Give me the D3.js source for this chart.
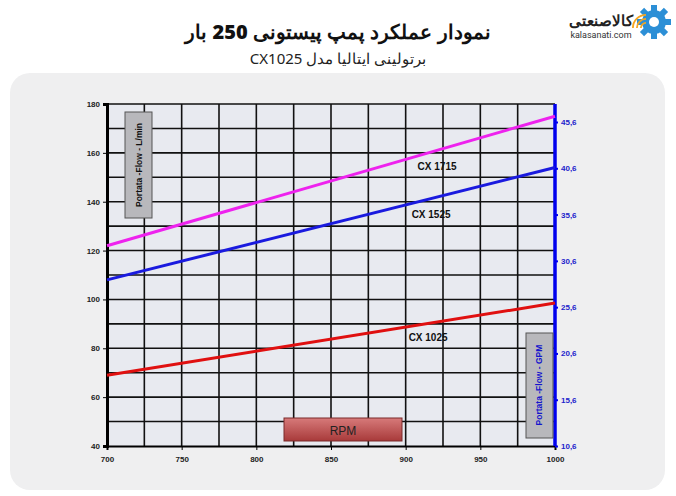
<!DOCTYPE html><html><head><meta charset="utf-8"><script src="https://cdn.jsdelivr.net/npm/d3@7"></script>
<style>body{margin:0;background:#fff}</style></head><body><svg id="c" width="676" height="496"></svg>
<script>
const rpmTicks=[700,750,800,850,900,950,1000];
const leftTicks=[40,60,80,100,120,140,160,180];
const rightTicks=[10.6,15.6,20.6,25.6,30.6,35.6,40.6,45.6];
const seriesNames=["CX 1715","CX 1525","CX 1025"];
const seriesColors=["#ee22ee","#1a1adf","#e01010"];
const seriesStart=[122,108,69];
const seriesEnd=[175,154,98.5];
const svg=d3.select("#c");
const defs=svg.append("defs");
const g1=defs.append("linearGradient").attr("id","rg").attr("x1",0).attr("y1",0).attr("x2",0).attr("y2",1);
g1.append("stop").attr("offset",0).attr("stop-color","#d77a7a");g1.append("stop").attr("offset",1).attr("stop-color","#a83a3a");
svg.append("text").attr("x",338).attr("y",39).attr("text-anchor","middle").attr("font-family","Noto Sans").attr("font-weight","900").attr("font-size",20).attr("fill","#111").attr("direction","rtl").text("نمودار عملکرد پمپ پیستونی 250 بار");
svg.append("text").attr("x",338).attr("y",64).attr("text-anchor","middle").attr("font-family","Noto Sans").attr("font-size",15).attr("fill","#222").attr("direction","rtl").text("برتولینی ایتالیا مدل CX1025");
const lg=svg.append("g").attr("transform","translate(654,22)");
lg.append("circle").attr("r",12).attr("fill","#2c8fd6");
for(let i=0;i<8;i++)lg.append("rect").attr("x",-3).attr("y",-17).attr("width",6).attr("height",6).attr("fill","#2c8fd6").attr("transform",`rotate(${i*45})`);
lg.append("circle").attr("r",5).attr("fill","#fff");
[6,10,14].forEach(r=>lg.append("path").attr("d",d3.arc()({innerRadius:r-1.8,outerRadius:r,startAngle:-Math.PI/2,endAngle:0})).attr("fill","#f5a623").attr("transform","translate(-8,6)"));
svg.append("text").attr("x",601).attr("y",26).attr("text-anchor","middle").attr("font-family","Noto Sans").attr("font-weight","bold").attr("font-size",15).attr("fill","#222").attr("direction","rtl").text("کالاصنعتی");
svg.append("text").attr("x",601).attr("y",38).attr("text-anchor","middle").attr("font-family","Roboto").attr("font-size",9).attr("fill","#333").text("kalasanati.com");
svg.append("rect").attr("x",10).attr("y",73).attr("width",655).attr("height",417).attr("rx",20).attr("fill","#efeff0");
const x=d3.scaleLinear().domain([700,1000]).range([107,555]);
const y=d3.scaleLinear().domain([40,180]).range([446,104]);
const yr=d3.scaleLinear().domain([10.6,45.6]).range([446,122]);
svg.append("rect").attr("x",107).attr("y",104).attr("width",448).attr("height",342).attr("fill","#e8eaf0");
const gr=svg.append("g").attr("stroke","#111").attr("stroke-width",1.6);
d3.range(725,1000,25).forEach(v=>gr.append("line").attr("x1",x(v)).attr("x2",x(v)).attr("y1",104).attr("y2",446));
d3.range(50,190,10).forEach(v=>gr.append("line").attr("x1",107).attr("x2",555).attr("y1",y(v)).attr("y2",y(v)));
const f="Liberation Sans";
svg.append("g").attr("transform","translate(107,0)").call(d3.axisLeft(y).tickValues(leftTicks).tickSize(4)).call(a=>{a.select(".domain").attr("stroke-width",3);a.selectAll("text").attr("font-family",f).attr("font-weight","bold").attr("font-size",8).attr("fill","#222")});
svg.append("g").attr("transform","translate(0,446)").call(d3.axisBottom(x).tickValues(rpmTicks).tickSize(4).tickFormat(d3.format("d"))).call(a=>{a.select(".domain").attr("stroke-width",2);a.selectAll("text").attr("font-family",f).attr("font-weight","bold").attr("font-size",8).attr("fill","#222").attr("dy","1.1em")});
svg.append("g").attr("transform","translate(555,0)").call(d3.axisRight(yr).tickValues(rightTicks).tickSize(3).tickFormat(d=>d.toFixed(1).replace(".",","))).call(a=>{a.select(".domain").attr("stroke","#0000ee").attr("stroke-width",3.5).attr("d","M0,104V446");a.selectAll("line").attr("stroke","#0000ee").attr("stroke-width",2);a.selectAll("text").attr("font-family",f).attr("font-weight","bold").attr("font-size",8).attr("fill","#2222cc").attr("x",6)});
seriesNames.forEach((n,i)=>{
 svg.append("line").attr("x1",x(700)).attr("y1",y(seriesStart[i])).attr("x2",x(1000)).attr("y2",y(seriesEnd[i])).attr("stroke",seriesColors[i]).attr("stroke-width",3);
});
const labelRpm=[908,904,902];
const labelFlow=[153,133.5,83];
seriesNames.forEach((n,i)=>svg.append("text").attr("x",x(labelRpm[i])).attr("y",y(labelFlow[i])).attr("font-family",f).attr("font-weight","bold").attr("font-size",10).attr("fill","#111").text(n));
svg.append("rect").attr("x",125).attr("y",112).attr("width",27).attr("height",106).attr("fill","#b8b8bc").attr("stroke","#555");
svg.append("text").attr("transform","translate(142,165) rotate(-90)").attr("text-anchor","middle").attr("font-family",f).attr("font-weight","bold").attr("font-size",8.5).attr("fill","#111").text("Portata -Flow -  L/min");
svg.append("rect").attr("x",526).attr("y",333).attr("width",27).attr("height",105).attr("fill","#b8b8bc").attr("stroke","#555");
svg.append("text").attr("transform","translate(542,385) rotate(-90)").attr("text-anchor","middle").attr("font-family",f).attr("font-weight","bold").attr("font-size",8.5).attr("fill","#1515cc").text("Portata -Flow -  GPM");
svg.append("rect").attr("x",284).attr("y",418).attr("width",118).attr("height",23).attr("fill","url(#rg)").attr("stroke","#7a2a2a");
svg.append("text").attr("x",343).attr("y",434.5).attr("text-anchor","middle").attr("font-family","Liberation Sans").attr("font-size",12).attr("fill","#222").text("RPM");
</script></body></html>
